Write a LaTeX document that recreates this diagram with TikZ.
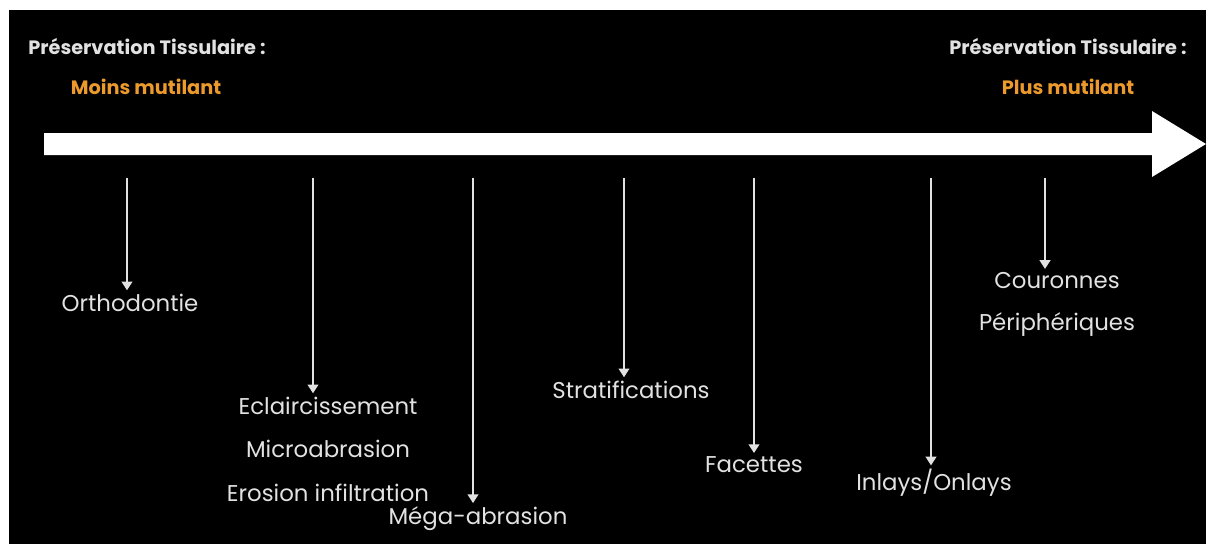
\documentclass[tikz,border=0pt]{standalone}
\usepackage{fontspec}
\setmainfont{Poppins}
\usetikzlibrary{arrows.meta}
\definecolor{txtgray}{HTML}{E2E2E2}
\definecolor{mutorange}{HTML}{EC9A2C}
\tikzset{
    head/.style={text=txtgray,font=\fontsize{11}{13}\selectfont\bfseries,inner sep=1pt},
    level/.style={text=mutorange,font=\fontsize{11}{13}\selectfont\bfseries,inner sep=1pt},
    item/.style={text=txtgray,font=\fontsize{13}{16}\selectfont,inner sep=2pt},
    pointer/.style={draw=txtgray,line width=1.3pt,-{Triangle[width=6pt,length=5pt]}}
}
\begin{document}
\begin{tikzpicture}[x=0.02cm,y=-0.02cm]
        \useasboundingbox (0,0) rectangle (1206,544);
        \fill[white] (0,0) rectangle (1206,544);
        \fill[black] (9,10) rectangle (1206,544);
        % big arrow
        \fill[white] (44,133) -- (1152,133) -- (1152,111) -- (1206,144) -- (1152,177) -- (1152,155) -- (44,155) -- cycle;
        \node[head] (hleft) at (147,47) {Préservation Tissulaire :};
        \node[level] (lleft) at (146,87) {Moins mutilant};
        \node[head] (hright) at (1068,47) {Préservation Tissulaire :};
        \node[level] (lright) at (1068,87) {Plus mutilant};
        % items
        \node[item] (ortho) at (130,303) {Orthodontie};
        \node[item] (eclair) at (328,406) {Eclaircissement};
        \node[item] (micro) at (328,449) {Microabrasion};
        \node[item] (erosion) at (328,493) {Erosion infiltration};
        \node[item] (mega) at (478,519) {Méga-abrasion};
        \node[item] (strat) at (631,390) {Stratifications};
        \node[item] (facet) at (754,465) {Facettes};
        \node[item] (inlay) at (934,483) {Inlays/Onlays};
        \node[item] (cour) at (1057,281) {Couronnes};
        \node[item] (peri) at (1057,325) {Périphériques};
        % pointers
        \coordinate (p1) at (127,178);
        \coordinate (p2) at (313,178);
        \coordinate (p3) at (473,178);
        \coordinate (p4) at (624,178);
        \coordinate (p5) at (754,178);
        \coordinate (p6) at (931,178);
        \coordinate (p7) at (1045,178);
        \draw[pointer] (p1) -- (p1 |- ortho.north);
        \draw[pointer] (p2) -- (p2 |- eclair.north);
        \draw[pointer] (p3) -- (p3 |- mega.north);
        \draw[pointer] (p4) -- (p4 |- strat.north);
        \draw[pointer] (p5) -- (p5 |- facet.north);
        \draw[pointer] (p6) -- (p6 |- inlay.north);
        \draw[pointer] (p7) -- (p7 |- cour.north);
    \end{tikzpicture}
\end{document}
